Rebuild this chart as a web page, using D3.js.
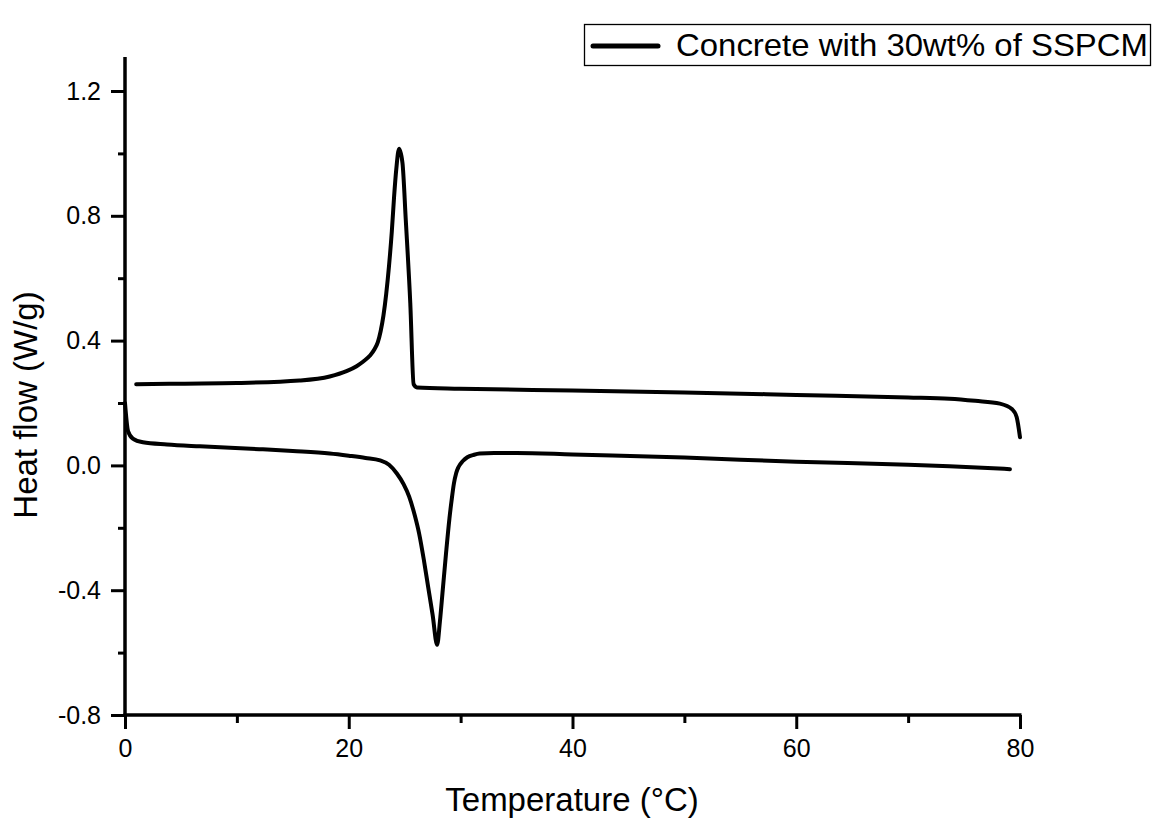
<!DOCTYPE html>
<html>
<head>
<meta charset="utf-8">
<script src="https://cdn.jsdelivr.net/npm/d3@7"></script>
<style>
  body { margin: 0; background: #fff; }
  svg { display: block; font-family: "Liberation Sans", Arial, sans-serif; }
</style>
</head>
<body>
<svg id="chart" width="1159" height="826"></svg>
<script>
// Heating scan (lower curve): temperature (°C), heat flow (W/g)
const heatingT = [0, 0.27, 0.7, 1.6, 3.75, 6.7, 12, 15, 18.3, 20, 21.5, 22.8, 23.6, 24.3, 24.9, 25.4, 25.9, 26.3, 26.7, 27.1, 27.5, 27.9, 28.15, 28.4, 28.7, 29.0, 29.2, 29.4, 29.6, 29.8, 30.2, 30.6, 31.2, 31.7, 33, 35, 40, 50, 60, 70, 73.7, 79.1];
const heatingQ = [0.20, 0.11, 0.086, 0.074, 0.067, 0.061, 0.052, 0.046, 0.038, 0.031, 0.024, 0.016, 0.002, -0.026, -0.06, -0.10, -0.16, -0.22, -0.30, -0.39, -0.48, -0.575, -0.50, -0.40, -0.28, -0.17, -0.11, -0.058, -0.025, -0.006, 0.014, 0.026, 0.034, 0.038, 0.040, 0.040, 0.035, 0.025, 0.012, 0.002, -0.003, -0.012];

// Cooling scan (upper curve)
const coolingT = [1, 5, 10, 15.6, 18.3, 19.8, 20.7, 21.3, 21.9, 22.3, 22.6, 22.85, 23.1, 23.35, 23.6, 23.85, 24.05, 24.25, 24.5, 24.8, 25.1, 25.5, 25.8, 26.1, 29.9, 40, 50, 60, 70, 73.7, 76, 78.2, 79.3, 79.7, 80];
const coolingQ = [0.26, 0.262, 0.264, 0.272, 0.285, 0.302, 0.318, 0.333, 0.352, 0.372, 0.395, 0.43, 0.48, 0.55, 0.64, 0.75, 0.86, 0.95, 1.015, 0.97, 0.785, 0.52, 0.26, 0.25, 0.246, 0.24, 0.234, 0.226, 0.218, 0.214, 0.207, 0.198, 0.18, 0.155, 0.09];

const xMajorTicks = [0, 20, 40, 60, 80];
const xMinorTicks = [10, 30, 50, 70];
const yMajorTicks = [-0.8, -0.4, 0.0, 0.4, 0.8, 1.2];
const yMinorTicks = [-0.6, -0.2, 0.2, 0.6, 1.0];

const seriesLabel = "Concrete with 30wt% of SSPCM";
const xTitle = "Temperature (°C)";
const yTitle = "Heat flow (W/g)";

const svg = d3.select("#chart");
const mLeft = 125, mRight = 1020, mTop = 57, mBottom = 715;

const x = d3.scaleLinear().domain([0, 80]).range([mLeft, mRight]);
const y = d3.scaleLinear().domain([-0.8, 1.2]).range([mBottom, 91]);

// Axes
const yAxisG = svg.append("g").attr("transform", `translate(${mLeft},0)`);
const xAxisG = svg.append("g").attr("transform", `translate(0,${mBottom})`);

svg.append("line").attr("x1", mLeft).attr("x2", mLeft).attr("y1", mTop).attr("y2", mBottom + 1.5)
  .attr("stroke", "#000").attr("stroke-width", 3.5);
svg.append("line").attr("x1", mLeft - 1.5).attr("x2", mRight + 1.5).attr("y1", mBottom).attr("y2", mBottom)
  .attr("stroke", "#000").attr("stroke-width", 3.5);

const fmtY = d => d3.format(".1f")(d).replace("\u2212", "-");
const yMajor = d3.axisLeft(y).tickValues(yMajorTicks).tickSize(14).tickPadding(10).tickFormat(fmtY);
yAxisG.call(yMajor);
const yMinor = d3.axisLeft(y).tickValues(yMinorTicks).tickSize(7).tickFormat("");
yAxisG.append("g").call(yMinor);

const xMajor = d3.axisBottom(x).tickValues(xMajorTicks).tickSize(14).tickPadding(10)
  .tickFormat(d3.format("d"));
xAxisG.call(xMajor);
const xMinor = d3.axisBottom(x).tickValues(xMinorTicks).tickSize(8).tickFormat("");
xAxisG.append("g").call(xMinor);

svg.selectAll(".domain").remove();
svg.selectAll(".tick line").attr("stroke", "#000").attr("stroke-width", 3);
svg.selectAll(".tick text").attr("font-size", 25).attr("fill", "#000")
  .attr("font-family", "'Liberation Sans', Arial, sans-serif");

// Curves
const line = d3.line().x(d => x(d[0])).y(d => y(d[1])).curve(d3.curveMonotoneX);
const heating = heatingT.map((t, i) => [t, heatingQ[i]]);
const cooling = coolingT.map((t, i) => [t, coolingQ[i]]);

[heating, cooling].forEach(data => {
  svg.append("path").datum(data)
    .attr("d", line)
    .attr("fill", "none")
    .attr("stroke", "#000")
    .attr("stroke-width", 4)
    .attr("stroke-linejoin", "round")
    .attr("stroke-linecap", "round");
});

// Axis titles
svg.append("text").attr("x", 572).attr("y", 811)
  .attr("text-anchor", "middle").attr("font-size", 33).attr("fill", "#000")
  .text(xTitle);
svg.append("text")
  .attr("transform", `translate(37,405) rotate(-90)`)
  .attr("text-anchor", "middle").attr("font-size", 33).attr("fill", "#000")
  .text(yTitle);

// Legend
const lg = svg.append("g");
lg.append("rect").attr("x", 584.5).attr("y", 24.5).attr("width", 566).attr("height", 41)
  .attr("fill", "#fff").attr("stroke", "#000").attr("stroke-width", 1.3);
lg.append("line").attr("x1", 593).attr("x2", 658).attr("y1", 46).attr("y2", 46)
  .attr("stroke", "#000").attr("stroke-width", 5).attr("stroke-linecap", "round");
lg.append("text").attr("x", 676).attr("y", 56).attr("font-size", 32).attr("fill", "#000")
  .attr("textLength", 472).attr("lengthAdjust", "spacingAndGlyphs")
  .text(seriesLabel);
</script>
</body>
</html>
